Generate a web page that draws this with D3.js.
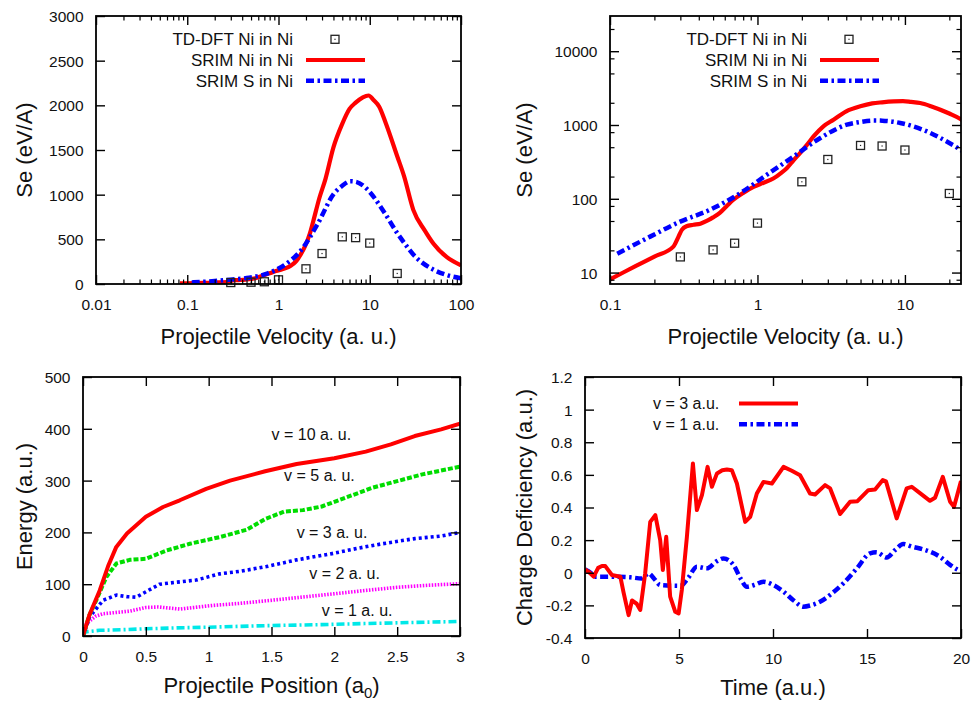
<!DOCTYPE html>
<html>
<head>
<meta charset="utf-8">
<script src="https://cdn.jsdelivr.net/npm/d3@7"></script>
<style>
  body { margin: 0; background: #fff; }
  text { font-family: "Liberation Sans", Arial, Helvetica, sans-serif; fill: #111; }
</style>
</head>
<body>
<svg id="chart" width="974" height="702"></svg>
<script>
// ---- data ----
// stopping power: TD-DFT points and SRIM curves (velocity a.u., Se eV/A)
const tddftV  = [0.3, 0.5, 0.7, 1, 2, 3, 5, 7, 10, 20];
const tddftSe = [16.3, 20.3, 25, 46.8, 170, 341, 528, 519, 458, 118];

const srimNi = [[0.083,6.7],[0.1,8.1],[0.15,12.3],[0.2,16.5],[0.269,22.5],[0.29,30],[0.307,38],[0.33,42.5],
  [0.368,44.4],[0.41,46],[0.453,50],[0.5,56],[0.558,65],[0.62,80],[0.687,97],[0.8,120],[0.94,145],[1.1,165],
  [1.28,188],[1.45,225],[1.58,260],[1.75,330],[1.95,420],[2.2,560],[2.4,700],[2.8,960],[3.28,1180],[4,1530],
  [4.98,1790],[6,1960],[7,2030],[8.4,2090],[9.7,2110],[11,2060],[12.7,1985],[15,1800],[20,1430],[23.8,1205],
  [30,830],[40,600],[50,450],[70,300],[100,210]];

const srimS = [[0.112,18],[0.187,30.7],[0.299,49],[0.477,71],[0.763,119],[1.16,212],[1.76,375],[2.67,667],
  [4.04,1010],[5,1100],[6.13,1150],[7,1145],[9.3,1064],[14.1,818],[20,570],[23.8,462],[30,330],[50,160],
  [70,100],[100,65]];

// energy vs projectile position (a0, a.u.)
const energyV10 = [[0,0],[0.05,40],[0.133,88],[0.2,135],[0.265,172],[0.35,198],[0.5,230],[0.637,249],[0.77,262],
  [0.98,284],[1.17,300],[1.45,318],[1.7,332],[2.0,343],[2.25,356],[2.45,370],[2.64,386],[2.85,399],[3.0,410]];
const energyV5 = [[0,0],[0.05,40],[0.106,69],[0.186,114],[0.266,140],[0.372,147],[0.5,149],[0.664,165],[0.85,178],
  [1.09,191],[1.3,205],[1.45,226],[1.6,240],[1.75,243],[1.9,250],[2.1,268],[2.3,286],[2.5,299],[2.7,312],[3.0,327]];
const energyV3 = [[0,0],[0.053,37],[0.16,69],[0.266,79],[0.35,76],[0.425,75],[0.52,88],[0.61,100],[0.75,104],
  [0.9,108],[1.09,120],[1.25,125],[1.46,134],[1.7,147],[1.98,159],[2.2,170],[2.38,178],[2.64,188],[2.85,193],[3.0,200]];
const energyV2 = [[0,0],[0.027,24],[0.1,38],[0.16,43],[0.372,48],[0.5,55],[0.6,56],[0.77,52],[1.03,59],[1.25,63],
  [1.46,68],[1.7,74],[1.98,81],[2.25,88],[2.5,94],[2.75,98],[3.0,101]];
const energyV1 = [[0,0],[0.02,8],[0.133,11],[0.3,12],[0.5,14],[0.8,16],[1.0,17],[1.46,20],[1.9,22],[2.24,24],
  [2.6,26],[3.0,28]];
const energyLabels = ['v = 10 a. u.', 'v = 5 a. u.', 'v = 3 a. u.', 'v = 2 a. u.', 'v = 1 a. u.'];
const energyLabelAt = [[1.5,390],[1.6,310],[1.7,200],[1.8,120],[1.9,50]];

// charge deficiency vs time (a.u.)
const chargeV3 = [[0,0.02],[0.25,0.0],[0.46,-0.024],[0.7,0.03],[0.9,0.041],[1.08,0.041],[1.43,-0.014],[1.88,-0.024],
  [2.05,-0.12],[2.32,-0.26],[2.5,-0.17],[2.75,-0.19],[2.94,-0.228],[3.2,-0.004],[3.47,0.312],[3.74,0.353],[4.0,0.2],
  [4.14,0.017],[4.32,0.22],[4.53,-0.147],[4.8,-0.239],[4.98,-0.249],[5.15,-0.106],[5.42,0.22],[5.74,0.67],[5.95,0.384],
  [6.22,0.476],[6.52,0.649],[6.75,0.527],[7.02,0.609],[7.3,0.628],[7.55,0.633],[7.81,0.629],[8.08,0.547],[8.52,0.312],
  [8.79,0.343],[9.14,0.486],[9.49,0.557],[9.94,0.547],[10.56,0.649],[11.0,0.625],[11.44,0.598],[11.97,0.486],
  [12.24,0.48],[12.77,0.537],[13.04,0.517],[13.57,0.36],[14.1,0.435],[14.49,0.439],[15.07,0.506],[15.43,0.51],
  [15.84,0.568],[16.01,0.56],[16.58,0.333],[17.11,0.517],[17.38,0.527],[17.8,0.49],[18.35,0.441],[18.62,0.46],
  [19.03,0.588],[19.42,0.435],[19.63,0.404],[20.0,0.563]];
const chargeV1 = [[0,0.02],[0.3,0.0],[0.55,-0.024],[1.52,-0.024],[2.41,-0.028],[3.03,-0.035],[3.38,-0.004],[3.7,-0.04],
  [4.0,-0.075],[5.07,-0.08],[5.5,-0.03],[5.95,0.037],[6.48,0.027],[7.0,0.07],[7.37,0.088],[7.9,0.047],[8.3,-0.04],
  [8.61,-0.086],[9.0,-0.075],[9.49,-0.055],[10.02,-0.075],[10.56,-0.116],[11.1,-0.17],[11.62,-0.208],[12.0,-0.2],
  [12.5,-0.178],[13.1,-0.13],[13.74,-0.065],[14.46,0.027],[15.16,0.119],[15.5,0.125],[16.05,0.094],[16.5,0.14],
  [16.93,0.176],[17.4,0.16],[18.0,0.143],[18.88,0.098],[19.4,0.05],[19.86,0.017],[20,0.01]];

// tick values
const decadeMinor = (lo, hi, mults) => {
  const out = [];
  for (let d = lo; d < hi * 1.0001; d *= 10) mults.forEach(m => { const v = d * m; if (v < hi) out.push(v); });
  return out;
};

const svg = d3.select('#chart');
const TICK = 9, MINOR = 4.5;

// draws the four-sided gnuplot style frame with inward ticks
function drawAxes(g, x, y, box, o) {
  const sides = [
    [d3.axisBottom(x), 0, box.bottom, true, o.xTicks, o.xMinor, o.xFmt],
    [d3.axisTop(x), 0, box.top, false, o.xTicks, o.xMinor, o.xFmt],
    [d3.axisLeft(y), box.left, 0, true, o.yTicks, o.yMinor, o.yFmt],
    [d3.axisRight(y), box.right, 0, false, o.yTicks, o.yMinor, o.yFmt]
  ];
  sides.forEach(([ax, tx, ty, labelled, ticks, minor, fmt], i) => {
    const horiz = i < 2;
    const a = g.append('g').attr('transform', `translate(${tx},${ty})`)
      .call(ax.tickValues(ticks).tickSize(-TICK).tickFormat(labelled ? fmt : () => ''));
    a.select('.domain').remove();
    a.selectAll('line').attr('stroke', '#000').attr('stroke-width', 1.4);
    a.selectAll('text').style('font-size', '15.5px').attr('fill', '#111');
    if (labelled && horiz) a.selectAll('text').attr('y', 21).attr('dy', '0.35em');
    if (labelled && !horiz) a.selectAll('text').attr('x', -12.5).attr('dy', '0.35em');
    if (minor) {
      const m = g.append('g').attr('transform', `translate(${tx},${ty})`)
        .call(ax.tickValues(minor).tickSize(-MINOR).tickFormat(() => ''));
      m.select('.domain').remove();
      m.selectAll('line').attr('stroke', '#000').attr('stroke-width', 1.2);
    }
  });
  g.append('rect')
    .attr('x', box.left).attr('y', box.top)
    .attr('width', box.right - box.left).attr('height', box.bottom - box.top)
    .attr('fill', 'none').attr('stroke', '#000').attr('stroke-width', 1.8);
}

// x title below the frame, y title rotated with its baseline at yx
function titles(g, box, xt, yt, yx, xdy) {
  const xtext = g.append('text')
    .attr('x', (box.left + box.right) / 2).attr('y', box.bottom + xdy)
    .attr('text-anchor', 'middle').style('font-size', '22px');
  if (typeof xt === 'string') xtext.text(xt); else xt(xtext);
  g.append('text')
    .attr('transform', `translate(${yx},${(box.top + box.bottom) / 2}) rotate(-90)`)
    .attr('text-anchor', 'middle').style('font-size', '22px').text(yt);
}

function clip(id, box) {
  svg.append('clipPath').attr('id', id).append('rect')
    .attr('x', box.left).attr('y', box.top)
    .attr('width', box.right - box.left).attr('height', box.bottom - box.top);
  return `url(#${id})`;
}

function curve(g, data, x, y, st, clipUrl, shape) {
  g.append('path').datum(data)
    .attr('clip-path', clipUrl)
    .attr('fill', 'none').attr('stroke', st.color).attr('stroke-width', st.width)
    .attr('stroke-dasharray', st.dash || null).attr('stroke-linejoin', 'round')
    .attr('d', d3.line().x(d => x(d[0])).y(d => y(d[1])).curve(shape || d3.curveLinear));
}

function squareMark(g, cx, cy) {
  g.append('rect').attr('x', cx - 4).attr('y', cy - 4).attr('width', 8).attr('height', 8)
    .attr('fill', 'none').attr('stroke', '#222').attr('stroke-width', 1.3);
  g.append('rect').attr('x', cx - 0.6).attr('y', cy - 0.6).attr('width', 1.2).attr('height', 1.2).attr('fill', '#222');
}

const redSolid = { color: '#ff0000', width: 4.2 };
const blueDashDot = { color: '#0000ff', width: 4.5, dash: '8,3.5,2.5,3.5' };

// ---------- panel 1 & 2 : stopping power ----------
function stoppingPanel(box, x, y, axes, id, yTitleX) {
  const g = svg.append('g');
  const cl = clip(id, box);
  curve(g, srimNi, x, y, redSolid, cl, d3.curveMonotoneX);
  curve(g, srimS, x, y, blueDashDot, cl, d3.curveMonotoneX);
  tddftV.forEach((v, i) => squareMark(g, x(v), y(tddftSe[i])));
  drawAxes(g, x, y, box, axes);
  titles(g, box, 'Projectile Velocity (a. u.)', 'Se (eV/A)', yTitleX, 60);
  // legend
  const names = ['TD-DFT Ni in Ni', 'SRIM Ni in Ni', 'SRIM S in Ni'];
  names.forEach((n, i) => {
    const ly = box.top + 23.3 + i * 20.7;
    g.append('text').attr('x', box.left + 197).attr('y', ly).attr('dy', '0.35em')
      .attr('text-anchor', 'end').style('font-size', '17px').text(n);
    if (i === 0) squareMark(g, box.left + 239, ly);
    else {
      const st = i === 1 ? redSolid : blueDashDot;
      g.append('line').attr('x1', box.left + 210).attr('x2', box.left + 269).attr('y1', ly).attr('y2', ly)
        .attr('stroke', st.color).attr('stroke-width', st.width).attr('stroke-dasharray', st.dash || null);
    }
  });
}

const box1 = { left: 96, right: 461, top: 16, bottom: 284 };
stoppingPanel(box1,
  d3.scaleLog().domain([0.01, 100]).range([box1.left, box1.right]),
  d3.scaleLinear().domain([0, 3000]).range([box1.bottom, box1.top]),
  { xTicks: [0.01, 0.1, 1, 10, 100], xMinor: decadeMinor(0.01, 100, [2,3,4,5,6,7,8,9]), xFmt: d => String(d),
    yTicks: d3.range(0, 3001, 500), yFmt: d => String(d) }, 'c1', 32);

const box2 = { left: 610, right: 961, top: 16, bottom: 284 };
stoppingPanel(box2,
  d3.scaleLog().domain([0.1, 24]).range([box2.left, box2.right]),
  d3.scaleLog().domain([7, 30000]).range([box2.bottom, box2.top]),
  { xTicks: [0.1, 1, 10], xMinor: decadeMinor(0.1, 24, [2,3,4,5,6,7,8,9]), xFmt: d => String(d),
    yTicks: [10, 100, 1000, 10000], yMinor: decadeMinor(1, 30000, [2,5,8]).filter(v => v > 7), yFmt: d => String(d) },
  'c2', 532);

// ---------- panel 3 : energy vs position ----------
{
  const box = { left: 83, right: 460, top: 377, bottom: 636 };
  const x = d3.scaleLinear().domain([0, 3]).range([box.left, box.right]);
  const y = d3.scaleLinear().domain([0, 500]).range([box.bottom, box.top]);
  const g = svg.append('g');
  const cl = clip('c3', box);
  const series = [energyV10, energyV5, energyV3, energyV2, energyV1];
  const styles = [
    { color: '#ff0000', width: 4 },
    { color: '#00dd00', width: 4, dash: '5,2' },
    { color: '#0000ff', width: 3.6, dash: '3,3' },
    { color: '#ff00ff', width: 3.6, dash: '1.5,1.5' },
    { color: '#00e8e8', width: 3.6, dash: '8,3,2,3' }
  ];
  series.slice().reverse().forEach((s, i) => curve(g, s, x, y, styles[4 - i], cl));
  energyLabels.forEach((t, i) => {
    g.append('text').attr('x', x(energyLabelAt[i][0])).attr('y', y(energyLabelAt[i][1])).attr('dy', '0.35em')
      .style('font-size', '16px').text(t);
  });
  drawAxes(g, x, y, box, { xTicks: d3.range(0, 3.01, 0.5), xFmt: d => String(d),
    yTicks: d3.range(0, 501, 100), yFmt: d => String(d) });
  titles(g, box, t => {
    t.append('tspan').text('Projectile Position (a');
    t.append('tspan').attr('dy', 5).style('font-size', '15px').text('0');
    t.append('tspan').attr('dy', -5).text(')');
  }, 'Energy (a.u.)', 32, 57);
}

// ---------- panel 4 : charge deficiency ----------
{
  const box = { left: 585, right: 961, top: 377, bottom: 638 };
  const x = d3.scaleLinear().domain([0, 20]).range([box.left, box.right]);
  const y = d3.scaleLinear().domain([-0.4, 1.2]).range([box.bottom, box.top]);
  const g = svg.append('g');
  const cl = clip('c4', box);
  const st3 = { color: '#ff0000', width: 4 };
  const st1 = { color: '#0000ff', width: 4.5, dash: '8,3.5,2.5,3.5' };
  curve(g, chargeV1, x, y, st1, cl, d3.curveMonotoneX);
  curve(g, chargeV3, x, y, st3, cl);
  drawAxes(g, x, y, box, { xTicks: d3.range(0, 21, 5), xFmt: d => String(d),
    yTicks: d3.range(-0.4, 1.21, 0.2), yFmt: d => String(+d.toFixed(1)) });
  titles(g, box, 'Time (a.u.)', 'Charge Deficiency (a.u.)', 532, 57);
  [['v = 3 a.u.', st3], ['v = 1 a.u.', st1]].forEach(([n, st], i) => {
    const ly = box.top + 26.6 + i * 20.7;
    g.append('text').attr('x', box.left + 68).attr('y', ly).attr('dy', '0.35em')
      .style('font-size', '16px').text(n);
    g.append('line').attr('x1', box.left + 154).attr('x2', box.left + 213).attr('y1', ly).attr('y2', ly)
      .attr('stroke', st.color).attr('stroke-width', st.width).attr('stroke-dasharray', st.dash || null);
  });
}
</script>
</body>
</html>
